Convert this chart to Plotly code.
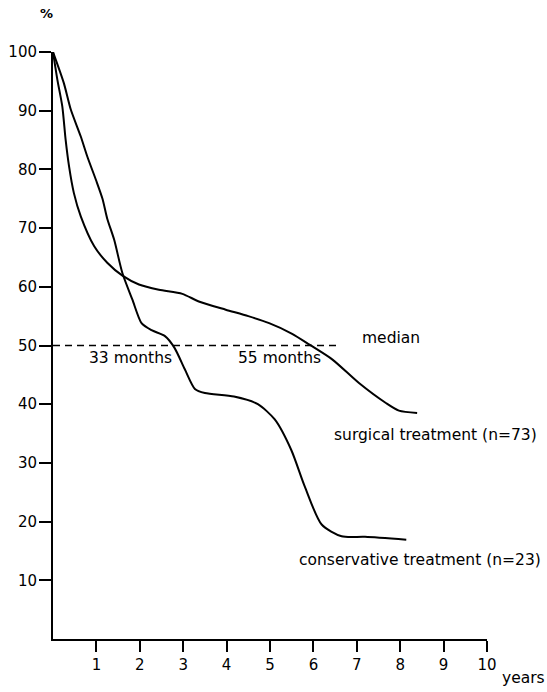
import plotly.graph_objects as go

# --- data (years, % surviving) ---
surg_years = [0, 0.10, 0.215, 0.29, 0.37, 0.48, 0.64, 0.95, 1.25, 1.60, 1.98, 2.44, 2.98, 3.36, 3.98, 4.50, 4.98, 5.51, 5.92, 6.44, 7.05, 7.67, 7.97, 8.39]
surg_pct = [100, 95.3, 90.7, 85.1, 80.5, 76.0, 72.0, 66.9, 64.1, 61.9, 60.4, 59.5, 58.8, 57.5, 56.1, 55.0, 53.8, 52.0, 50.1, 47.6, 43.6, 40.2, 38.9, 38.5]

cons_years = [0, 0.25, 0.41, 0.64, 0.79, 0.99, 1.14, 1.25, 1.41, 1.60, 1.83, 2.04, 2.27, 2.58, 2.80, 3.04, 3.27, 3.50, 4.17, 4.72, 5.11, 5.49, 5.80, 6.19, 6.65, 7.19, 8.14]
cons_pct = [100, 94.7, 90.2, 85.6, 82.2, 78.2, 75.0, 71.6, 68.0, 62.3, 57.8, 53.8, 52.6, 51.6, 49.6, 45.9, 42.6, 41.9, 41.3, 40.0, 37.4, 32.2, 26.0, 19.5, 17.5, 17.4, 16.9]

median_pct = 50
median_end_year = 6.6

x_ticks = [1, 2, 3, 4, 5, 6, 7, 8, 9, 10]
y_ticks = [10, 20, 30, 40, 50, 60, 70, 80, 90, 100]

FONT = "DejaVu Sans"
INK = "#000000"

fig = go.Figure()
fig.add_trace(go.Scatter(x=surg_years, y=surg_pct, mode="lines",
                         line=dict(color=INK, width=2, shape="spline", smoothing=0.7),
                         name="surgical", cliponaxis=False))
fig.add_trace(go.Scatter(x=cons_years, y=cons_pct, mode="lines",
                         line=dict(color=INK, width=2, shape="spline", smoothing=0.7),
                         name="conservative", cliponaxis=False))
fig.add_trace(go.Scatter(x=[0, median_end_year], y=[median_pct, median_pct], mode="lines",
                         line=dict(color=INK, width=1.6, dash="7px,5px"),
                         name="median", cliponaxis=False))

ann_font = dict(family=FONT, size=15.5, color=INK)
annotations = [
    dict(xref="paper", yref="paper", x=-0.0145, y=1.0664, text="<b>%</b>", showarrow=False,
         xanchor="center", yanchor="middle", font=dict(family=FONT, size=13, color=INK)),
    dict(xref="paper", yref="paper", x=1.030, y=-0.0664, text="years", showarrow=False,
         xanchor="left", yanchor="middle", font=ann_font),
    dict(x=7.08, y=51.3, text="median", showarrow=False, xanchor="left", yanchor="middle", font=ann_font),
    dict(x=1.79, y=47.9, text="33 months", showarrow=False, xanchor="center", yanchor="middle", font=ann_font),
    dict(x=5.22, y=47.9, text="55 months", showarrow=False, xanchor="center", yanchor="middle", font=ann_font),
    dict(x=6.42, y=34.8, text="surgical treatment (n=73)", showarrow=False, xanchor="left", yanchor="middle", font=ann_font),
    dict(x=5.63, y=13.5, text="conservative treatment (n=23)", showarrow=False, xanchor="left", yanchor="middle", font=ann_font),
]

fig.update_layout(
    width=547, height=692,
    margin=dict(l=53, r=60, t=52, b=53),
    paper_bgcolor="white", plot_bgcolor="white",
    showlegend=False,
    font=dict(family=FONT, size=15, color=INK),
    annotations=annotations,
)
fig.update_xaxes(range=[0, 10], tickvals=x_ticks, ticktext=[str(v) for v in x_ticks],
                 showline=True, linewidth=2, linecolor=INK, mirror=False, automargin=False,
                 ticks="outside", ticklen=11, tickwidth=1.5, tickcolor=INK,
                 showgrid=False, zeroline=False, tickfont=dict(family=FONT, size=15, color=INK))
fig.update_yaxes(range=[0, 100], tickvals=y_ticks, ticktext=[str(v) for v in y_ticks],
                 showline=True, linewidth=2, linecolor=INK, mirror=False, automargin=False,
                 ticks="outside", ticklen=12, tickwidth=1.5, tickcolor=INK, ticklabelstandoff=-1,
                 showgrid=False, zeroline=False, tickfont=dict(family=FONT, size=15, color=INK))

fig.write_html("out.html")
